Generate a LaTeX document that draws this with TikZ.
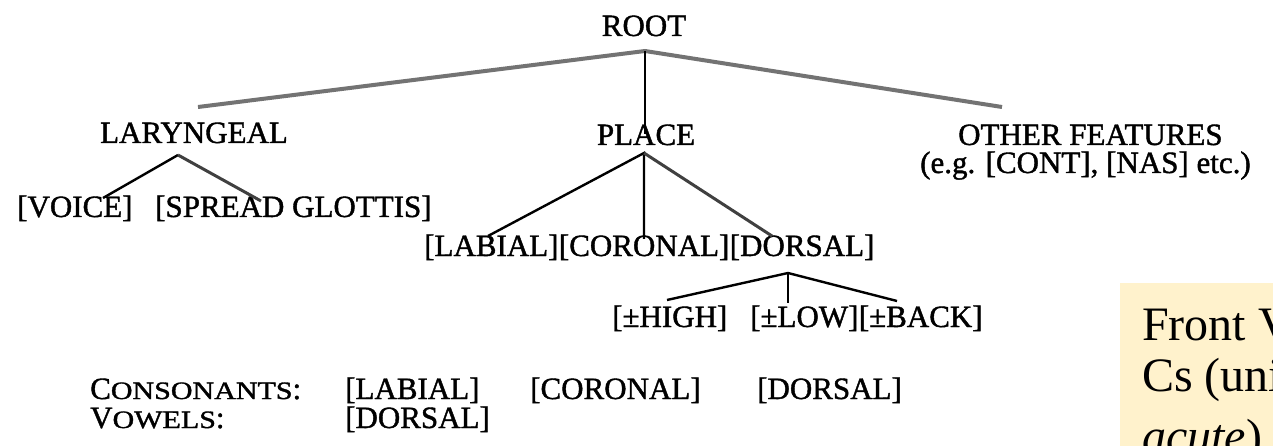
\documentclass[tikz,border=0pt]{standalone}
\usepackage{fontspec}
\usepackage{graphicx}
\setmainfont{Liberation Serif}
\newfontfamily\scanfont[FakeBold=1.3]{Liberation Serif}
\newfontfamily\notefont{Liberation Serif}
\usetikzlibrary{calc}
\definecolor{notebg}{HTML}{FFF2CC}
\newcommand{\smc}[1]{{\fontsize{25}{28}\selectfont\scalebox{1.2}[1]{#1}}}
\begin{document}
\begin{tikzpicture}[x=1pt,y=-1pt,
  lbl/.style={inner sep=0pt, font=\scanfont\fontsize{31}{34}\selectfont},
  rootline/.style={draw=black!55, line width=4pt},
  darkline/.style={draw=black!75, line width=3pt},
  thinline/.style={draw=black, line width=2.4pt},
  notetext/.style={inner sep=0pt, anchor=base west, font=\notefont\fontsize{48}{52}\selectfont},
]
\useasboundingbox (0,0) rectangle (1273,446);
\clip (0,0) rectangle (1273,446);

% note box at right
\fill[notebg] (1120,283) rectangle (1280,450);
\node[notetext] (n1) at (1142,340) {Front V};
\node[notetext] (n2) at (1142,391) {Cs (uni};
\node[notetext] (n3) at (1142,452) {\itshape acute\upshape)};

% top level
\node[lbl, anchor=base] (root) at (644,36) {ROOT};
\node[lbl, anchor=base] (lar) at (194,143) {LARYNGEAL};
\node[lbl, anchor=base] (place) at (646,145) {PLACE};
\node[lbl, anchor=base west] (other) at (958,145) {OTHER FEATURES};
\node[lbl, anchor=base west] (eg) at (920,173) {(e.g. [CONT], [NAS] etc.)};

\coordinate (rootapex) at (645,51);
\coordinate (larTop) at (198,107);
\coordinate (otherTop) at (1002,107);
\coordinate (placeIn) at (645,134);
\draw[rootline] (larTop) -- (rootapex) -- (otherTop);
\draw[thinline, line width=2pt] (rootapex) -- (placeIn);

% laryngeal children
\node[lbl, anchor=base west] (voice) at (17,217) {[VOICE]};
\node[lbl, anchor=base west] (spread) at (155,217) {[SPREAD GLOTTIS]};
\coordinate (larapex) at (178,155);
\coordinate (voiceEnd) at (103,198);
\coordinate (spreadEnd) at (261,201);
\draw[thinline] (voiceEnd) -- (larapex);
\draw[darkline] (larapex) -- (spreadEnd);

% place children
\node[lbl, anchor=base west] (labial) at (424,256) {[LABIAL]};
\node[lbl, anchor=base west] (coronal) at (labial.base east) {[CORONAL]};
\node[lbl, anchor=base west] (dorsal) at (coronal.base east) {[DORSAL]};
\coordinate (placeapex) at (644,153);
\coordinate (labialEnd) at (488,236);
\coordinate (coronalEnd) at (644,239);
\coordinate (dorsalEnd) at (772,236);
\draw[thinline] (labialEnd) -- (placeapex) -- (coronalEnd);
\draw[darkline] (placeapex) -- (dorsalEnd);

% dorsal children
\node[lbl, anchor=base west] (high) at (612,327) {[±HIGH]};
\node[lbl, anchor=base west] (low) at (750,327) {[±LOW]};
\node[lbl, anchor=base west] (back) at (low.base east) {[±BACK]};
\coordinate (dorsalapex) at (788,273);
\coordinate (highEnd) at (667,300);
\coordinate (lowEnd) at (788,303);
\coordinate (backEnd) at (897,301);
\draw[thinline] (highEnd) -- (dorsalapex) -- (backEnd);
\draw[thinline, line width=2pt] (dorsalapex) -- (lowEnd);

% bottom table
\node[lbl, anchor=base west] (cons) at (90,399) {C\smc{ONSONANTS}:};
\node[lbl, anchor=base west] (vow) at (90,428) {V\smc{OWELS}:};
\node[lbl, anchor=base west] (cLab) at (345,399) {[LABIAL]};
\node[lbl, anchor=base west] (cCor) at (530,399) {[CORONAL]};
\node[lbl, anchor=base west] (cDor) at (757,399) {[DORSAL]};
\node[lbl, anchor=base west] (vDor) at (345,428) {[DORSAL]};
\end{tikzpicture}
\end{document}
